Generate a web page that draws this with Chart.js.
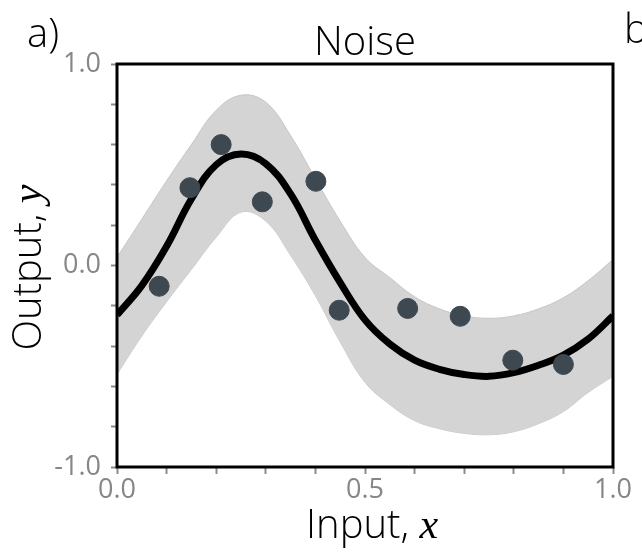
<!DOCTYPE html>
<html>
<head>
<meta charset="utf-8">
<script src="https://cdn.jsdelivr.net/npm/chart.js@4/dist/chart.umd.min.js"></script>
<style>
  body { margin: 0; background: #fff; }
  canvas { display: block; }
</style>
</head>
<body>
<canvas id="noiseChart" width="642" height="552"></canvas>
<script>
    // fitted mean and its shaded interval, sampled along x
    const gridX = [0.00, 0.05, 0.10, 0.15, 0.20, 0.25, 0.30, 0.35, 0.40, 0.45, 0.50,
                   0.55, 0.60, 0.65, 0.70, 0.75, 0.80, 0.85, 0.90, 0.95, 1.00];
    const meanY = [-0.245, -0.100, 0.095, 0.330, 0.500, 0.553, 0.505, 0.355, 0.125, -0.085, -0.270,
                   -0.390, -0.470, -0.515, -0.541, -0.550, -0.532, -0.495, -0.445, -0.365, -0.250];
    const upperY = [0.040, 0.230, 0.420, 0.600, 0.770, 0.845, 0.810, 0.645, 0.430, 0.220, 0.040,
                    -0.060, -0.155, -0.215, -0.250, -0.262, -0.250, -0.215, -0.160, -0.075, 0.030];
    const lowerY = [-0.540, -0.350, -0.180, -0.020, 0.140, 0.265, 0.220, 0.050, -0.150, -0.380, -0.580,
                    -0.690, -0.770, -0.810, -0.833, -0.840, -0.825, -0.785, -0.725, -0.630, -0.550];

    // observed noisy samples
    const sampleX = [0.085, 0.147, 0.210, 0.293, 0.401, 0.448, 0.586, 0.692, 0.798, 0.900];
    const sampleY = [-0.103, 0.386, 0.600, 0.316, 0.418, -0.222, -0.213, -0.252, -0.470, -0.491];

    // tick labels that are written out
    const xTickLabels = [0.0, 0.5, 1.0];
    const yTickLabels = [-1.0, 0.0, 1.0];

    const toPoints = (xs, ys) => xs.map((x, i) => ({ x: x, y: ys[i] }));

    const textFont = '"Open Sans", "DejaVu Sans", sans-serif';
    const mathFont = '"Liberation Serif", "DejaVu Serif", serif';

    // draws the frame, panel letters, title and the axis titles with italic symbols
    const panelText = {
        id: 'panelText',
        afterDatasetsDraw(chart) {
            const { ctx, chartArea: a } = chart;
            ctx.save();
            ctx.strokeStyle = '#000';
            ctx.lineWidth = 3;
            ctx.strokeRect(a.left, a.top, a.right - a.left, a.bottom - a.top);
            ctx.restore();
        },
        afterDraw(chart) {
            const { ctx, chartArea: a } = chart;
            const cx = (a.left + a.right) / 2;
            const cy = (a.top + a.bottom) / 2;
            ctx.save();
            ctx.fillStyle = '#000';
            ctx.textBaseline = 'alphabetic';

            ctx.font = '300 40px ' + textFont;
            ctx.textAlign = 'center';
            ctx.fillText('Noise', cx, 55);

            ctx.textAlign = 'left';
            ctx.fillText('a)', 27, 47);
            ctx.fillText('b', 624, 43);

            // axis title with the symbol set in math italic
            const drawMixed = (plain, sym, centerX, baseY) => {
                ctx.font = '300 40px ' + textFont;
                const w1 = ctx.measureText(plain).width;
                ctx.font = 'italic 42px ' + mathFont;
                const w2 = ctx.measureText(sym).width;
                const start = centerX - (w1 + w2) / 2;
                ctx.font = '300 40px ' + textFont;
                ctx.fillText(plain, start, baseY);
                ctx.font = 'italic 42px ' + mathFont;
                ctx.fillText(sym, start + w1, baseY);
            };
            drawMixed('Input, ', 'x', cx + 7, 538);

            ctx.translate(41, cy + 2);
            ctx.rotate(-Math.PI / 2);
            drawMixed('Output, ', 'y', 0, 0);
            ctx.restore();
        }
    };

    const labelEvery = (wanted) => function (value) {
        const hit = wanted.some(v => Math.abs(v - value) < 1e-9);
        return hit ? value.toFixed(1) : '';
    };

    const tickFont = { family: textFont, size: 27, weight: 400 };

    const data = {
        datasets: [{
            label: 'samples',
            data: toPoints(sampleX, sampleY),
            backgroundColor: '#3e4850',
            borderColor: '#3e4850',
            pointRadius: 10,
            showLine: false,
            order: 0
        },
        {
            label: 'mean',
            data: toPoints(gridX, meanY),
            borderColor: '#000',
            borderWidth: 7,
            pointRadius: 0,
            showLine: true,
            tension: 0.4,
            clip: 0,
            order: 1
        },
        {
            label: 'upper',
            data: toPoints(gridX, upperY),
            borderColor: '#c6c6c6',
            borderWidth: 1,
            backgroundColor: '#d4d4d4',
            pointRadius: 0,
            showLine: true,
            tension: 0.4,
            fill: '+1',
            clip: 0,
            order: 2
        },
        {
            label: 'lower',
            data: toPoints(gridX, lowerY),
            borderColor: '#c6c6c6',
            borderWidth: 1,
            pointRadius: 0,
            showLine: true,
            tension: 0.4,
            fill: false,
            clip: 0,
            order: 3
        }]
    };

    const config = {
        type: 'scatter',
        data: data,
        options: {
            responsive: false,
            animation: false,
            devicePixelRatio: 1,
            layout: { padding: { left: 0, top: 64, right: 29, bottom: 0 } },
            plugins: {
                legend: { display: false },
                tooltip: { enabled: false }
            },
            scales: {
                x: {
                    type: 'linear',
                    min: 0,
                    max: 1,
                    afterFit: (scale) => { scale.height = 85; },
                    border: { display: false },
                    grid: { drawOnChartArea: false, drawTicks: true, tickLength: 7, tickColor: '#8a8a8a', tickWidth: 2 },
                    ticks: {
                        stepSize: 0.1,
                        autoSkip: false,
                        maxRotation: 0,
                        padding: 0,
                        color: '#868686',
                        font: tickFont,
                        callback: labelEvery(xTickLabels)
                    }
                },
                y: {
                    min: -1,
                    max: 1,
                    afterFit: (scale) => { scale.width = 117; },
                    border: { display: false },
                    grid: { drawOnChartArea: false, drawTicks: true, tickLength: 6, tickColor: '#8a8a8a', tickWidth: 2 },
                    ticks: {
                        stepSize: 0.2,
                        autoSkip: false,
                        padding: 10,
                        color: '#868686',
                        font: tickFont,
                        callback: labelEvery(yTickLabels)
                    }
                }
            }
        },
        plugins: [panelText]
    };

    const noiseChart = new Chart(
        document.getElementById('noiseChart'),
        config
    );
</script>
</body>
</html>
